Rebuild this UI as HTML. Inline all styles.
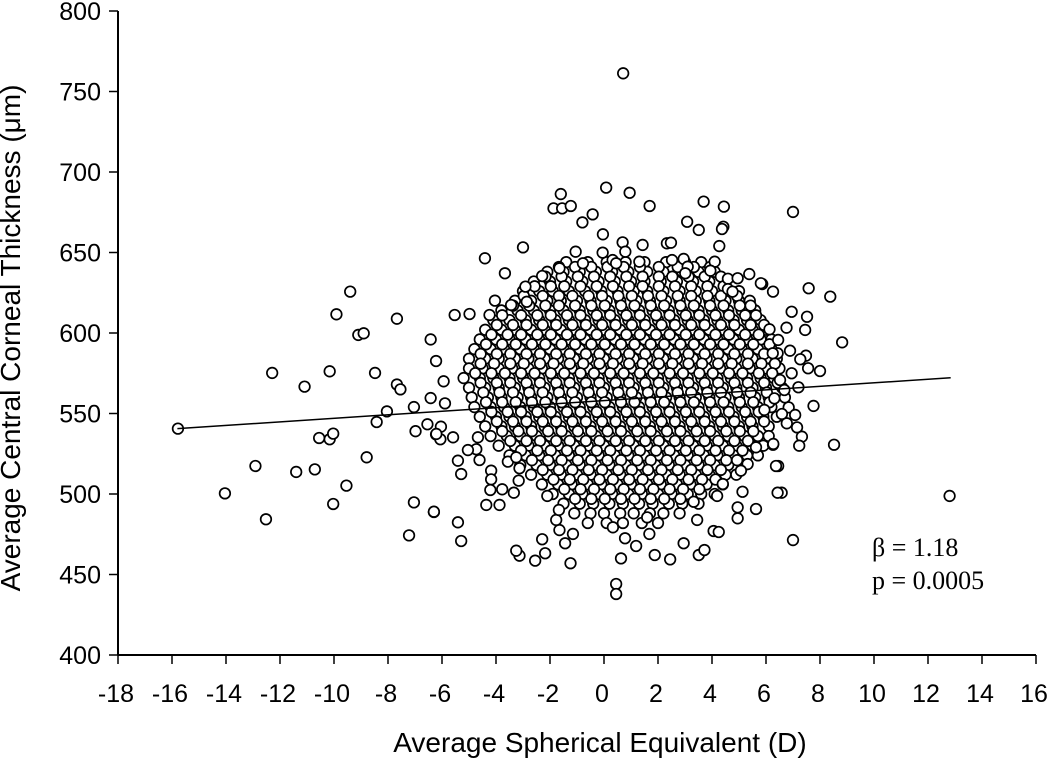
<!DOCTYPE html>
<html><head><meta charset="utf-8">
<style>
html,body{margin:0;padding:0;background:#fff;}
svg{display:block;}
text{font-family:"Liberation Sans",Arial,sans-serif;fill:#000;}
</style></head>
<body>
<svg id="chart" width="1050" height="763" viewBox="0 0 1050 763">
<g id="axes"></g>
<g id="marks"></g>
<g id="fit"></g>
<text x="20" y="338" font-size="28" text-anchor="middle" transform="rotate(-90 20 338)">Average Central Corneal Thickness (μm)</text>
<text x="600" y="752" font-size="28" text-anchor="middle">Average Spherical Equivalent (D)</text>
<text x="872" y="556" font-size="26" style="font-family:'Liberation Serif',serif">β = 1.18</text>
<text x="872" y="589" font-size="26" style="font-family:'Liberation Serif',serif">p = 0.0005</text>
</svg>
<script>
const xTicks = [-18,-16,-14,-12,-10,-8,-6,-4,-2,0,2,4,6,8,10,12,14,16];
const yTicks = [400,450,500,550,600,650,700,750,800];
const fitLine = [[-15.8,540.6],[12.84,572.2]];
const outlierSE = [-15.78,-9.4,-9.91,-7.67,-9.1,-8.9,-6.42,-6.22,-5.94,-12.29,-11.09,-10.16,-8.48,-7.67,-7.54,-6.42,-8.04,-7.04,-5.89,-8.42,-6.98,-6.54,-6.04,-6.22,-6.06,-10.55,-10.16,-10.03,-12.91,-11.4,-10.71,-8.79,-14.04,-9.54,-10.03,-12.52,-7.04,-6.3,-7.22,
7.0,5.86,6.26,7.58,8.38,6.95,7.52,6.76,7.45,6.13,6.45,8.82,6.89,7.48,7.27,6.43,6.25,7.56,8.0,6.95,6.52,7.2,6.68,6.31,5.94,7.76,6.84,7.08,6.59,6.77,7.15,7.33,7.23,6.26,8.52,6.45,6.58,7.0,12.8,
0.71,-1.6,-1.87,-1.55,-1.23,0.08,0.95,1.69,-0.8,-0.42,-0.04,3.69,4.44,3.08,3.51,4.42,4.37,4.27,-3.0,-4.41,-3.67,0.69,1.43,2.33,2.48,-1.05,-0.05,0.79,1.31,2.52,2.95,3.1,3.01,4.1,3.94,-1.65,-0.78,0.32,0.45,5.38,5.81,4.59,4.95,4.59,4.76,-2.29,-2.91,-4.04,-3.44,-2.86,-5.53,-4.98,-4.24,
0.45,0.45,-1.24,0.63,-2.55,-3.13,-3.25,-2.18,-2.29,-1.44,-1.15,-1.65,-1.77,-1.67,1.19,0.78,0.33,1.68,1.6,1.88,2.45,2.95,3.51,3.72,4.06,4.25,3.45,3.32,4.19,4.4,5.13,4.95,4.95,5.63,6.43,6.27,6.37,5.63,5.32,5.07,
-6.3,-5.41,-5.29,-4.36,-3.87,-4.21,-3.77,-3.34,-2.1,-5.29,-5.41,-4.18,-4.18,-3.16,-3.13,-4.61,-4.73,-5.04,-6.21,-5.59,-4.67,-3.56,-3.25];
const outlierCCT = [540.6,625.7,611.6,608.9,598.8,599.8,596,582.6,570,575.2,566.7,576.2,575.2,568,565,559.6,551.3,554,556.3,544.7,539,543.3,541.8,537,534,534.8,534,537.5,517.4,513.7,515.3,522.8,500.4,505.2,493.8,484.3,494.8,488.8,474.3,
675.2,630.4,625.7,627.8,622.6,613.2,610.1,603.3,601.9,602.3,595.7,594.2,589,585.9,583.7,587.4,587.4,578.1,576.4,575,570.8,566.3,564.6,559.4,552.2,554.7,553.8,549.1,549.7,543.9,541.4,535.6,530,530.6,530.6,517.4,500.8,471.4,498.8,
761.3,686.3,677.4,677.4,678.9,690.3,687.1,678.9,668.7,673.7,661.3,681.6,678.5,669.1,664,666,664.6,654,653.2,646.4,637.1,656.3,654.7,655.7,656.1,650.5,649.9,650.5,644.3,645.3,646,641.2,637.1,644.3,638.7,640.2,643.3,645.3,643.3,636.6,630.9,633.7,634,627.3,625.7,635.4,628.8,620.1,617.4,619.4,611.2,611.8,611.2,
444.1,437.9,457,460,458.6,461.7,464.8,463.2,471.9,469.4,475.2,477.6,483.9,490.1,467.7,472.5,479.3,475.2,485.5,462.1,459.4,469.4,462.1,465.2,477,476.4,483.9,495.2,498.8,506.2,501.4,491.7,484.9,490.7,500.8,531.1,517.4,529,518.6,514.5,
489,482.4,470.8,493.2,493.2,502.5,502.9,500.8,498.8,512.4,520.7,514.5,509.1,508.3,516,521.1,527.8,527.3,537.3,535.2,535.2,520.1,522.8];
const coreCCT = [644,638,632,626,620,614,608,602,596,590,584,578,572,566,560,554,548,542,536,530,524,518,512,506,500,494,488,482];
const coreSE = [
[-1.4,-0.6,0.1,0.8,1.5,2.3,3.0,3.6],
[-2.1,-1.5,-0.9,-0.3,0.3,0.9,1.6,2.2,2.9,3.5,4.1],
[-2.6,-2.0,-1.4,-0.8,-0.2,0.4,1.0,1.5,2.1,2.7,3.3,3.9,4.5],
[-3.0,-2.4,-1.9,-1.3,-0.7,-0.1,0.5,1.1,1.6,2.2,2.8,3.4,4.0,4.6,5.0],
[-3.3,-2.7,-2.1,-1.6,-1.0,-0.5,0.1,0.6,1.2,1.7,2.3,2.8,3.4,3.9,4.5,5.0,5.4],
[-3.8,-3.2,-2.6,-2.0,-1.5,-0.9,-0.4,0.2,0.7,1.3,1.8,2.4,2.9,3.5,4.0,4.6,5.1,5.6],
[-4.1,-3.5,-2.9,-2.4,-1.8,-1.3,-0.7,-0.2,0.4,0.9,1.5,2.0,2.6,3.1,3.7,4.2,4.8,5.3,5.8],
[-4.4,-3.8,-3.3,-2.7,-2.2,-1.6,-1.1,-0.5,0.0,0.6,1.1,1.7,2.2,2.8,3.3,3.9,4.4,5.0,5.5,6.0],
[-4.6,-4.0,-3.5,-2.9,-2.4,-1.8,-1.3,-0.7,-0.2,0.4,0.9,1.5,2.0,2.6,3.1,3.7,4.2,4.8,5.3,5.8,6.2],
[-4.8,-4.2,-3.7,-3.1,-2.6,-2.0,-1.5,-0.9,-0.4,0.2,0.7,1.3,1.8,2.4,2.9,3.5,4.0,4.6,5.1,5.7,6.2],
[-5.0,-4.4,-3.9,-3.3,-2.8,-2.2,-1.7,-1.1,-0.6,0.0,0.5,1.1,1.6,2.2,2.7,3.3,3.8,4.4,4.9,5.5,6.0,6.4],
[-5.0,-4.5,-3.9,-3.4,-2.8,-2.3,-1.7,-1.2,-0.6,-0.1,0.5,1.0,1.6,2.1,2.7,3.2,3.8,4.3,4.9,5.4,6.0,6.5],
[-5.2,-4.6,-4.1,-3.5,-3.0,-2.4,-1.9,-1.3,-0.8,-0.2,0.3,0.9,1.4,2.0,2.5,3.1,3.6,4.2,4.7,5.3,5.8,6.3],
[-5.0,-4.4,-3.9,-3.3,-2.8,-2.2,-1.7,-1.1,-0.6,0.0,0.5,1.1,1.6,2.2,2.7,3.3,3.8,4.4,4.9,5.5,6.0,6.6],
[-4.9,-4.3,-3.8,-3.2,-2.7,-2.1,-1.6,-1.0,-0.5,0.1,0.6,1.2,1.7,2.3,2.8,3.4,3.9,4.5,5.0,5.6,6.1,6.7],
[-4.8,-4.2,-3.7,-3.1,-2.6,-2.0,-1.5,-0.9,-0.4,0.2,0.7,1.3,1.8,2.4,2.9,3.5,4.0,4.6,5.1,5.7,6.2],
[-4.6,-4.0,-3.5,-2.9,-2.4,-1.8,-1.3,-0.7,-0.2,0.4,0.9,1.5,2.0,2.6,3.1,3.7,4.2,4.8,5.3,5.9,6.4],
[-4.4,-3.8,-3.3,-2.7,-2.2,-1.6,-1.1,-0.5,0.0,0.6,1.1,1.7,2.2,2.8,3.3,3.9,4.4,5.0,5.5,6.1],
[-4.2,-3.6,-3.1,-2.5,-2.0,-1.4,-0.9,-0.3,0.2,0.8,1.3,1.9,2.4,3.0,3.5,4.1,4.6,5.2,5.7,6.1],
[-3.9,-3.3,-2.8,-2.2,-1.7,-1.1,-0.6,0.0,0.5,1.1,1.6,2.2,2.7,3.3,3.8,4.4,4.9,5.5,5.9],
[-3.5,-2.9,-2.4,-1.8,-1.3,-0.7,-0.2,0.4,0.9,1.5,2.0,2.6,3.1,3.7,4.2,4.8,5.3,5.7],
[-3.1,-2.5,-2.0,-1.4,-0.9,-0.3,0.2,0.8,1.3,1.9,2.4,3.0,3.5,4.1,4.6,5.2],
[-2.7,-2.1,-1.6,-1.0,-0.5,0.1,0.6,1.2,1.7,2.3,2.8,3.4,3.9,4.5,4.9],
[-2.3,-1.7,-1.2,-0.6,-0.1,0.5,1.0,1.6,2.1,2.7,3.2,3.8,4.4],
[-1.9,-1.3,-0.8,-0.2,0.3,0.9,1.4,2.0,2.5,3.1,3.6,4.1],
[-1.5,-0.9,-0.4,0.2,0.7,1.3,1.8,2.4,2.9,3.5],
[-1.1,-0.5,0.0,0.6,1.1,1.7,2.2,2.8],
[-0.6,0.1,0.7,1.4,2.0]];
const fillCCT = [641,635,629,623,617,611,605,599,593,587,581,575,569,563,557,551,545,539,533,527,521,515,509,503,497];
const fillSE = [
[-1.8,-1.2,-0.6,0.0,0.6,1.2,1.9,2.6,3.2,3.8],
[-2.3,-1.7,-1.1,-0.5,0.1,0.7,1.3,1.9,2.4,3.0,3.6,4.2],
[-2.7,-2.1,-1.6,-1.0,-0.4,0.2,0.8,1.3,1.9,2.5,3.1,3.7,4.3],
[-3.1,-2.4,-1.8,-1.3,-0.7,-0.2,0.4,0.9,1.5,2.0,2.6,3.1,3.7,4.2,4.8],
[-3.5,-2.9,-2.3,-1.8,-1.2,-0.6,-0.1,0.5,1.0,1.6,2.1,2.7,3.2,3.8,4.3,4.9,5.3],
[-3.9,-3.2,-2.6,-2.1,-1.5,-1.0,-0.4,0.1,0.7,1.2,1.8,2.3,2.9,3.4,4.0,4.5,5.1,5.5],
[-4.1,-3.5,-3.0,-2.4,-1.9,-1.3,-0.8,-0.2,0.3,0.9,1.4,2.0,2.5,3.1,3.6,4.2,4.7,5.3,5.8],
[-4.3,-3.7,-3.2,-2.6,-2.1,-1.5,-1.0,-0.4,0.1,0.7,1.2,1.8,2.3,2.9,3.4,4.0,4.5,5.1,5.6],
[-4.5,-3.9,-3.4,-2.8,-2.3,-1.7,-1.2,-0.6,-0.1,0.5,1.0,1.6,2.1,2.7,3.2,3.8,4.3,4.9,5.4,6.0],
[-4.7,-4.1,-3.6,-3.0,-2.5,-1.9,-1.4,-0.8,-0.3,0.3,0.8,1.4,1.9,2.5,3.0,3.6,4.1,4.7,5.2,5.8],
[-4.7,-4.2,-3.6,-3.1,-2.5,-2.0,-1.4,-0.9,-0.3,0.2,0.8,1.3,1.9,2.4,3.0,3.5,4.1,4.6,5.2,5.7,6.2],
[-4.9,-4.3,-3.8,-3.2,-2.7,-2.1,-1.6,-1.0,-0.5,0.1,0.6,1.2,1.7,2.3,2.8,3.4,3.9,4.5,5.0,5.6,6.1],
[-4.7,-4.1,-3.6,-3.0,-2.5,-1.9,-1.4,-0.8,-0.3,0.3,0.8,1.4,1.9,2.5,3.0,3.6,4.1,4.7,5.2,5.8,6.3],
[-4.6,-4.0,-3.5,-2.9,-2.4,-1.8,-1.3,-0.7,-0.2,0.4,0.9,1.5,2.0,2.6,3.1,3.7,4.2,4.8,5.3,5.9],
[-4.5,-3.9,-3.4,-2.8,-2.3,-1.7,-1.2,-0.6,-0.1,0.5,1.0,1.6,2.1,2.7,3.2,3.8,4.3,4.9,5.4,6.0],
[-4.3,-3.7,-3.2,-2.6,-2.1,-1.5,-1.0,-0.4,0.1,0.7,1.2,1.8,2.3,2.9,3.4,4.0,4.5,5.1,5.6],
[-4.1,-3.5,-3.0,-2.4,-1.9,-1.3,-0.8,-0.2,0.3,0.9,1.4,2.0,2.5,3.1,3.6,4.2,4.7,5.3,5.8],
[-3.9,-3.3,-2.8,-2.2,-1.7,-1.1,-0.6,0.0,0.5,1.1,1.6,2.2,2.7,3.3,3.8,4.4,4.9,5.4],
[-3.6,-3.0,-2.5,-1.9,-1.4,-0.8,-0.3,0.3,0.8,1.4,1.9,2.5,3.0,3.6,4.1,4.7,5.2],
[-3.2,-2.6,-2.1,-1.5,-1.0,-0.4,0.1,0.7,1.2,1.8,2.3,2.9,3.4,4.0,4.5,5.0],
[-2.8,-2.2,-1.7,-1.1,-0.6,0.0,0.5,1.1,1.6,2.2,2.7,3.3,3.8,4.4,4.8],
[-2.4,-1.8,-1.3,-0.7,-0.2,0.4,0.9,1.5,2.0,2.6,3.1,3.7,4.2],
[-2.0,-1.4,-0.9,-0.3,0.2,0.8,1.3,1.9,2.4,3.0,3.5,4.0],
[-1.6,-1.0,-0.5,0.1,0.6,1.2,1.7,2.3,2.8,3.4],
[-1.2,-0.6,-0.1,0.5,1.0,1.6,2.1,2.7]];

const NS='http://www.w3.org/2000/svg';
const X0=118, X1=1036, Y0=655, Y1=11;
function sx(v){return X0+(v-(-18))/34*(X1-X0);}
function sy(v){return Y0-(v-400)/400*(Y0-Y1);}
function mk(tag,attrs,parent){const e=document.createElementNS(NS,tag);for(const k in attrs)e.setAttribute(k,attrs[k]);parent.appendChild(e);return e;}

const axes=document.getElementById('axes');
const yAxis=mk('line',{x1:X0,y1:Y1,x2:X0,y2:Y0,stroke:'#000','stroke-width':2},axes);


const xAxis=mk('line',{x1:X0,y1:Y0,x2:X1,y2:Y0,stroke:'#000','stroke-width':2},axes);


yTicks.forEach(v=>{
  const t=mk('line',{x1:X0-9,y1:sy(v),x2:X0,y2:sy(v),stroke:'#000','stroke-width':1.5},axes);
  
  
  const l=mk('text',{x:X0-17,y:sy(v)+9,'font-size':25,'text-anchor':'end'},axes);
  l.textContent=v;
  
  
});
xTicks.forEach(v=>{
  const t=mk('line',{x1:sx(v),y1:Y0,x2:sx(v),y2:Y0+9,stroke:'#000','stroke-width':1.5},axes);
  
  
  const l=mk('text',{x:sx(v)-2,y:Y0+47,'font-size':25,'text-anchor':'middle'},axes);
  l.textContent=v;
  
  
});

const marks=document.getElementById('marks');
function dot(x,y){
  const c=mk('circle',{cx:sx(x),cy:sy(y),r:5.3,fill:'#fff',stroke:'#000','stroke-width':1.7},marks);
  
  
}
coreCCT.forEach((y,i)=>coreSE[i].forEach(x=>dot(x,y)));
fillCCT.forEach((y,i)=>fillSE[i].forEach(x=>dot(x+0.13,y)));
outlierSE.forEach((x,i)=>dot(x,outlierCCT[i]));

const fit=document.getElementById('fit');
const ln=mk('line',{x1:sx(fitLine[0][0]),y1:sy(fitLine[0][1]),x2:sx(fitLine[1][0]),y2:sy(fitLine[1][1]),stroke:'#000','stroke-width':1.5},fit);


</script>
</body></html>
